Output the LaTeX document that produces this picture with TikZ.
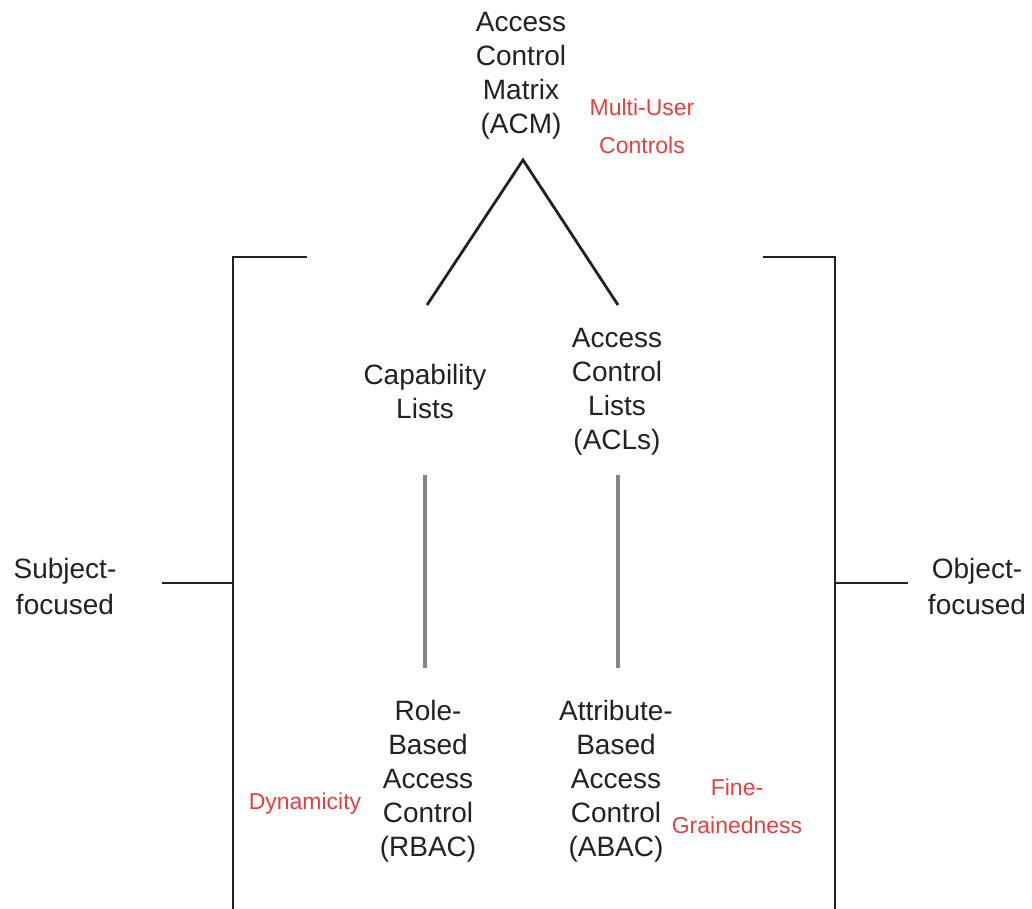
\documentclass[tikz,border=0pt]{standalone}
\usepackage{fontspec}
\setmainfont{Liberation Sans}
\definecolor{ink}{HTML}{222222}
\definecolor{note}{HTML}{E44040}
\definecolor{rule}{HTML}{858585}
\begin{document}
\begin{tikzpicture}[x=1pt,y=-1pt,
  term/.style={align=center, text=ink, font=\fontsize{28}{34}\selectfont, inner sep=0pt},
  side/.style={align=center, text=ink, font=\fontsize{28}{36}\selectfont, inner sep=0pt},
  remark/.style={align=center, text=note, font=\fontsize{23}{38}\selectfont, inner sep=0pt},
  edge/.style={draw=ink, line width=2.8pt, line join=miter},
  link/.style={draw=rule, line width=3.5pt}]
\useasboundingbox (0,0) rectangle (1032,909);
\fill[white] (0,0) rectangle (1032,909);

% models
\node[term] (acm) at (521,76) {Access\\Control\\Matrix\\(ACM)};
\node[term] (cap) at (425,391) {Capability\\Lists};
\node[term] (acl) at (617,392) {Access\\Control\\Lists\\(ACLs)};
\node[term] (rbac) at (428,781) {Role-\\Based\\Access\\Control\\(RBAC)};
\node[term] (abac) at (616,781) {Attribute-\\Based\\Access\\Control\\(ABAC)};

% properties
\node[remark] (multi) at (642,126) {Multi-User\\Controls};
\node[remark] (dyn) at (305,804) {Dynamicity};
\node[remark] (fine) at (737,806) {Fine-\\Grainedness};

% orientation labels
\node[side] (subj) at (65,586) {Subject-\\focused};
\node[side] (obj) at (977,586) {Object-\\focused};

% derivation from the matrix
\coordinate (apex) at (523,160);
\coordinate (capTop) at (427,305);
\coordinate (aclTop) at (618,305);
\draw[edge] (capTop) -- (apex) -- (aclTop);

% list models to access-control models
\coordinate (capLow) at (425,475);
\coordinate (rbacTop) at (425,668);
\coordinate (aclLow) at (618,475);
\coordinate (abacTop) at (618,668);
\draw[link] (capLow) -- (rbacTop);
\draw[link] (aclLow) -- (abacTop);

% grouping brackets
\coordinate (lTick) at (233,583);
\coordinate (rTick) at (835,583);
\draw[edge] (307,257) -- (233,257) -- (233,915);
\draw[edge] (763,257) -- (835,257) -- (835,915);
\draw[edge] (162,583) -- (lTick);
\draw[edge] (rTick) -- (908,583);
\end{tikzpicture}
\end{document}
